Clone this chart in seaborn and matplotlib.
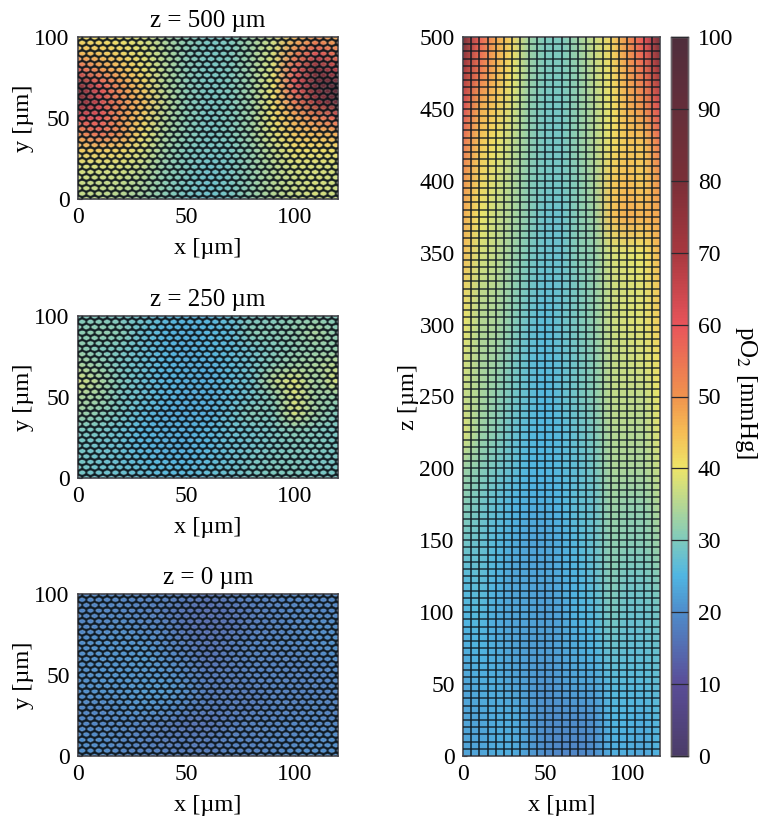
import numpy as np
import matplotlib
matplotlib.use("Agg")
import matplotlib.pyplot as plt
from matplotlib.collections import LineCollection
from matplotlib.colors import LinearSegmentedColormap
import seaborn as sns

# pO2 [mmHg], rows listed from y/z = 0 upward, columns x = 0, 10, ... 120 um
x_um = [0, 10, 20, 30, 40, 50, 60, 70, 80, 90, 100, 110, 120]
y_um = [0, 10, 20, 30, 40, 50, 60, 70, 80, 90, 100]
z_um = list(range(0, 501, 25))

slice_500 = [
    [36, 36, 35, 33, 31, 29, 28, 29, 32, 35, 37, 38, 37],
    [37, 36, 36, 34, 31, 29, 28, 29, 32, 35, 37, 38, 37],
    [38, 38, 38, 36, 32, 30, 28, 29, 32, 35, 38, 38, 38],
    [43, 43, 42, 38, 33, 30, 29, 29, 32, 36, 41, 41, 41],
    [50, 56, 50, 41, 34, 31, 29, 30, 33, 39, 44, 45, 47],
    [62, 60, 50, 43, 35, 31, 29, 30, 33, 41, 47, 52, 58],
    [80, 64, 52, 45, 36, 31, 29, 30, 33, 41, 54, 72, 90],
    [82, 60, 50, 43, 35, 31, 29, 30, 33, 40, 60, 86, 95],
    [58, 50, 45, 41, 35, 31, 29, 30, 33, 39, 58, 80, 66],
    [46, 44, 42, 39, 35, 31, 29, 30, 33, 38, 52, 62, 54],
    [41, 41, 40, 38, 34, 31, 29, 30, 33, 37, 45, 50, 46],
]
slice_250 = [
    [29, 28, 28, 27, 26, 26, 27, 28, 29, 30, 30, 29, 29],
    [29, 28, 27, 26, 25, 25, 26, 27, 29, 30, 30, 29, 29],
    [29, 28, 27, 25, 24, 24, 25, 27, 28, 29, 30, 30, 29],
    [30, 29, 27, 25, 24, 24, 25, 27, 28, 29, 31, 30, 29],
    [33, 31, 29, 26, 24, 24, 24, 27, 31, 30, 38, 33, 30],
    [34, 33, 29, 27, 25, 24, 24, 26, 28, 31, 38, 33, 32],
    [38, 34, 30, 27, 25, 24, 24, 26, 28, 36, 39, 33, 39],
    [34, 32, 29, 27, 25, 24, 24, 26, 28, 31, 33, 34, 36],
    [32, 30, 29, 27, 25, 24, 25, 26, 28, 30, 31, 32, 32],
    [31, 32, 31, 27, 25, 24, 25, 26, 31, 31, 32, 34, 31],
    [30, 30, 29, 28, 26, 25, 25, 27, 29, 30, 31, 31, 30],
]
slice_0 = [
    [20, 20, 19, 18, 18, 17, 17, 18, 18, 19, 20, 20, 20],
    [20, 20, 19, 18, 17, 17, 17, 18, 18, 19, 19, 20, 20],
    [19, 19, 19, 18, 17, 16, 16, 17, 18, 18, 19, 19, 19],
    [19, 19, 20, 21, 20, 18, 17, 17, 17, 18, 18, 19, 18],
    [20, 21, 21, 22, 22, 20, 17, 17, 17, 18, 18, 18, 19],
    [20, 21, 21, 21, 21, 19, 17, 17, 18, 18, 18, 18, 19],
    [20, 21, 21, 22, 20, 18, 16, 17, 18, 18, 18, 19, 20],
    [20, 21, 21, 21, 19, 17, 16, 17, 18, 19, 19, 20, 21],
    [19, 19, 20, 19, 18, 16, 15, 16, 17, 18, 19, 20, 20],
    [19, 19, 19, 18, 17, 16, 15, 16, 17, 18, 19, 19, 19],
    [19, 19, 19, 18, 18, 17, 16, 17, 18, 18, 19, 19, 19],
]
xz_plane = [
    [23, 23, 24, 24, 22, 20, 19, 19, 20, 24, 24, 23, 25],
    [23, 23, 24, 24, 22, 20, 20, 20, 21, 25, 25, 24, 26],
    [23, 24, 24, 23, 22, 21, 22, 23, 23, 26, 26, 26, 27],
    [24, 25, 24, 23, 22, 22, 23, 24, 25, 28, 27, 27, 28],
    [25, 26, 24, 23, 23, 22, 23, 25, 26, 30, 28, 28, 29],
    [26, 27, 25, 23, 23, 23, 24, 25, 27, 31, 29, 29, 31],
    [29, 28, 26, 24, 23, 23, 24, 26, 28, 32, 31, 31, 33],
    [31, 29, 27, 25, 24, 24, 25, 27, 28, 33, 32, 32, 35],
    [33, 31, 29, 27, 25, 25, 26, 27, 29, 34, 34, 34, 37],
    [39, 33, 31, 28, 26, 25, 26, 28, 30, 35, 35, 35, 39],
    [37, 34, 32, 29, 27, 25, 27, 29, 31, 36, 36, 36, 40],
    [38, 34, 33, 30, 27, 26, 27, 29, 31, 36, 37, 38, 41],
    [40, 35, 34, 31, 28, 26, 28, 30, 32, 37, 38, 39, 43],
    [42, 36, 35, 32, 29, 27, 28, 30, 32, 37, 38, 39, 44],
    [45, 38, 36, 33, 30, 28, 28, 31, 32, 38, 39, 40, 46],
    [47, 40, 37, 34, 31, 28, 28, 31, 33, 44, 47, 46, 48],
    [50, 42, 38, 35, 31, 29, 29, 31, 34, 43, 45, 43, 50],
    [54, 44, 40, 36, 32, 29, 29, 32, 35, 41, 44, 44, 54],
    [62, 47, 43, 38, 32, 29, 29, 32, 35, 40, 46, 50, 62],
    [70, 54, 46, 40, 33, 30, 30, 32, 36, 41, 48, 55, 72],
    [85, 58, 48, 42, 33, 30, 30, 33, 37, 42, 50, 60, 85],
]

panel_titles = ["z = 500 µm", "z = 250 µm", "z = 0 µm"]
cbar_ticks = list(range(0, 101, 10))

sns.set_theme(style="white")
plt.rcParams["font.family"] = ["Liberation Serif", "DejaVu Serif"]
plt.rcParams["mathtext.fontset"] = "stix"
plt.rcParams["text.color"] = "#000000"
plt.rcParams["axes.labelcolor"] = "#000000"
plt.rcParams["xtick.color"] = "#000000"
plt.rcParams["ytick.color"] = "#000000"
plt.rcParams["xtick.labelcolor"] = "#000000"
plt.rcParams["ytick.labelcolor"] = "#000000"

cmap = LinearSegmentedColormap.from_list("po2", [
    (0.00, "#4b3c68"), (0.10, "#5a4d98"), (0.20, "#4f8dcb"), (0.25, "#50b6e2"),
    (0.30, "#7fcabd"), (0.40, "#eee568"), (0.45, "#f6bd55"), (0.50, "#f0934e"),
    (0.60, "#e8545a"), (0.70, "#a8383f"), (0.80, "#7a2f38"), (1.00, "#4f2e3c"),
])

W, H = 770, 825
FS = 17
LS = 17.6
fig = plt.figure(figsize=(W / 100, H / 100), dpi=100)


def soften(image, dpi):
    """Slight blur of a rendered layer, like the scan of the printed mesh."""
    pad = 3
    img = np.pad(image, ((pad, pad), (pad, pad), (0, 0)))
    kernel = np.array([0.14, 0.72, 0.14])
    for axis in (0, 1):
        img = np.apply_along_axis(lambda v: np.convolve(v, kernel, mode="same"), axis, img)
    return img, -pad, -pad


def px_axes(x0, y0, x1, y1):
    return fig.add_axes([x0 / W, 1 - y1 / H, (x1 - x0) / W, (y1 - y0) / H])


def draw_field(ax, table, xs, ys, xlabel, ylabel, xt, yt, cbar_ax=None):
    frame = np.array(table, dtype=float)
    sns.heatmap(frame, ax=ax, cmap=cmap, vmin=0, vmax=100, shading="gouraud",
                cbar=cbar_ax is not None, cbar_ax=cbar_ax,
                xticklabels=False, yticklabels=False)
    dx = xs[1] - xs[0]
    dy = ys[1] - ys[0]
    ax.set_xlim(0, len(xs) - 1)
    ax.set_ylim(0, len(ys) - 1)
    ax.set_xticks([t / dx for t in xt], [str(t) for t in xt])
    ax.set_yticks([t / dy for t in yt], [str(t) for t in yt])
    ax.tick_params(direction="in", length=3, width=0.8, labelsize=FS, pad=6,
                   bottom=True, left=True, color="#222222")
    ax.set_xlabel(xlabel, fontsize=LS, labelpad=7)
    ax.set_ylabel(ylabel, fontsize=LS, labelpad=0)
    for s in ax.spines.values():
        s.set_visible(True)
        s.set_color("#45454c")
        s.set_linewidth(1.2)
    return dx, dy


def honeycomb(ax, dx, dy):
    a = 3.84
    r = a / np.sqrt(3)
    segs = []
    row_h = a * np.sqrt(3) / 2
    ang = np.deg2rad(np.arange(30, 390, 60))
    for j in range(-1, 33):
        for i in range(-1, 34):
            cx = i * a + (a / 2 if j % 2 else 0)
            cy = j * row_h
            segs.append(np.c_[(cx + r * np.cos(ang)) / dx, (cy + r * np.sin(ang)) / dy])
    mesh = LineCollection(segs, colors="#0c141a", linewidths=1.5, alpha=0.92, zorder=3)
    mesh.set_agg_filter(soften)
    ax.add_collection(mesh)
    for j in range(0, 33, 3):
        ax.axhline((j * row_h + row_h / 2) / dy, color="#14202a", lw=0.7, alpha=0.45, zorder=3)


left_boxes = [(78, 37, 338, 199), (78, 316, 338, 478), (78, 594, 338, 756)]
for box, table, title in zip(left_boxes, [slice_500, slice_250, slice_0], panel_titles):
    ax = px_axes(*box)
    dx, dy = draw_field(ax, table, x_um, y_um, "x [µm]", "y [µm]", [0, 50, 100], [0, 50, 100])
    honeycomb(ax, dx, dy)
    ax.set_title(title, fontsize=18, pad=7)

cax = px_axes(671, 37, 688, 756)
ax = px_axes(463, 37, 660, 756)
dx, dy = draw_field(ax, xz_plane, x_um, z_um, "x [µm]", "z [µm]", [0, 50, 100],
                    list(range(0, 501, 50)), cbar_ax=cax)
for xv in np.arange(5, 120, 5):
    ax.axvline(xv / dx, color="#101a22", lw=1.3, alpha=0.82, zorder=3)
for zv in np.arange(5, 500, 5):
    ax.axhline(zv / dy, color="#101a22", lw=1.2, alpha=0.78, zorder=3)

cax.set_yticks(cbar_ticks, [str(t) for t in cbar_ticks])
cax.minorticks_off()
cax.set_axisbelow(False)
cax.tick_params(axis="y", direction="in", length=12.2, width=0.9, labelsize=FS, pad=7,
                right=True, left=False, color="#2a2a30")
for s in cax.spines.values():
    s.set_visible(True)
    s.set_color("#6a6468")
    s.set_linewidth(1.0)
cax.set_ylabel("pO$_2$ [mmHg]", fontsize=18, rotation=270, labelpad=19, y=0.505)

fig.savefig("out.png", dpi=100, facecolor="white")
